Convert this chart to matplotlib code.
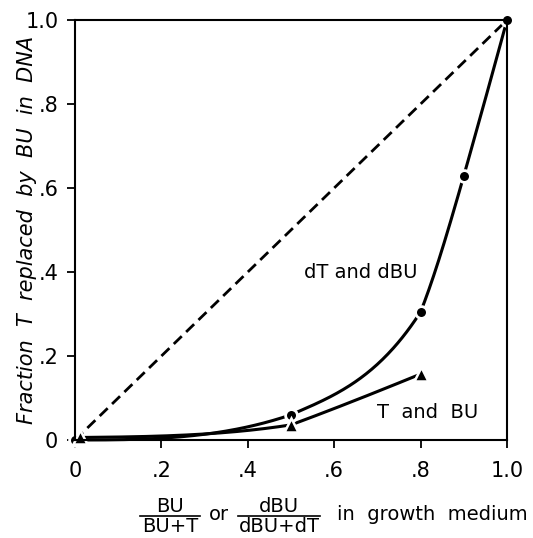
import numpy as np
import matplotlib
matplotlib.use("Agg")
import matplotlib.pyplot as plt
from matplotlib.lines import Line2D

# Data
dt_x = [0.0, 0.5, 0.8, 0.9, 1.0]
dt_y = [0.0, 0.06, 0.305, 0.629, 1.0]
tb_x = [0.012, 0.5, 0.8]
tb_y = [0.006, 0.036, 0.157]
diag_x = [0.0, 1.0]
diag_y = [0.0, 1.0]
xticks = [0, 0.2, 0.4, 0.6, 0.8, 1.0]
xticklabels = ["0", ".2", ".4", ".6", ".8", "1.0"]
yticks = [0, 0.2, 0.4, 0.6, 0.8, 1.0]
yticklabels = ["0", ".2", ".4", ".6", ".8", "1.0"]

# hand-drawn curve tangents at the start / end of each segment (line is broken at markers)
dt_tan = [(0.0, 0.35), (0.45, 1.6), (2.6, 3.6), (3.65, 3.8)]
tb_tan = [(0.01, 0.16), (0.38, 0.42)]


def hermite(x, y, tans, n=120):
    xs, ys = [], []
    for k in range(len(x) - 1):
        h = x[k+1] - x[k]
        m0, m1 = tans[k]
        t = np.linspace(0, 1, n)
        h00 = 2*t**3 - 3*t**2 + 1; h10 = t**3 - 2*t**2 + t
        h01 = -2*t**3 + 3*t**2; h11 = t**3 - t**2
        xs.append(x[k] + t*h)
        ys.append(h00*y[k] + h10*h*m0 + h01*y[k+1] + h11*h*m1)
    return np.concatenate(xs), np.concatenate(ys)


plt.rcParams['font.family'] = ['DejaVu Sans']
W, H = 533, 538
fig = plt.figure(figsize=(5.33, 5.38), dpi=100)
ax = fig.add_axes([75/W, 98/H, 432/W, 420/H])

ax.plot(diag_x, diag_y, color='black', lw=2, dashes=(4, 2.2), clip_on=False, zorder=2)
sx, sy = hermite(dt_x, dt_y, dt_tan)
ax.plot(sx, sy, color='black', lw=2.2, clip_on=False, zorder=2)
tx, ty = hermite(tb_x, tb_y, tb_tan)
ax.plot(tx, ty, color='black', lw=2.2, clip_on=False, zorder=2)
ax.plot(dt_x, dt_y, 'o', color='black', ms=8.5, mec='white', mew=2.0, clip_on=False, zorder=2.2)
ax.plot(tb_x, tb_y, '^', color='black', ms=10.5, mec='white', mew=1.8, clip_on=False, zorder=2.2)

ax.set_xlim(0, 1.0)
ax.set_ylim(0, 1.0)
ax.set_xticks(xticks)
ax.set_xticklabels(xticklabels, fontsize=15)
ax.set_yticks(yticks)
ax.set_yticklabels(yticklabels, fontsize=15)
ax.tick_params(direction='out', length=6, width=1.3, pad=6)
ax.tick_params(axis='x', pad=9)
for s in ax.spines.values():
    s.set_linewidth(1.5)

ax.text(0.53, 0.385, "dT and dBU", fontsize=14, va='baseline')
ax.text(0.70, 0.052, "T  and  BU", fontsize=14, va='baseline')

fig.text(27/W, 1-230/H, "Fraction  T  replaced  by  BU  in  DNA", fontsize=15,
         style='italic', rotation=90, ha='center', va='center')

# x-axis label built from stacked fractions
fs = 14
def frac(xc, x0, x1, num, den):
    fig.text(xc/W, 1-506/H, num, fontsize=fs, ha='center', va='center')
    fig.text(xc/W, 1-526/H, den, fontsize=fs, ha='center', va='center')
    fig.add_artist(Line2D([x0/W, x1/W], [1-515.5/H, 1-515.5/H], color='black', lw=1.2,
                          transform=fig.transFigure))

frac(170, 140, 200, "BU", "BU+T")
fig.text(219/W, 1-514/H, "or", fontsize=fs, ha='center', va='center')
frac(279, 238, 320, "dBU", "dBU+dT")
fig.text(528/W, 1-514/H, "in  growth  medium", fontsize=fs, ha='right', va='center')

fig.savefig("out.png", dpi=100)
